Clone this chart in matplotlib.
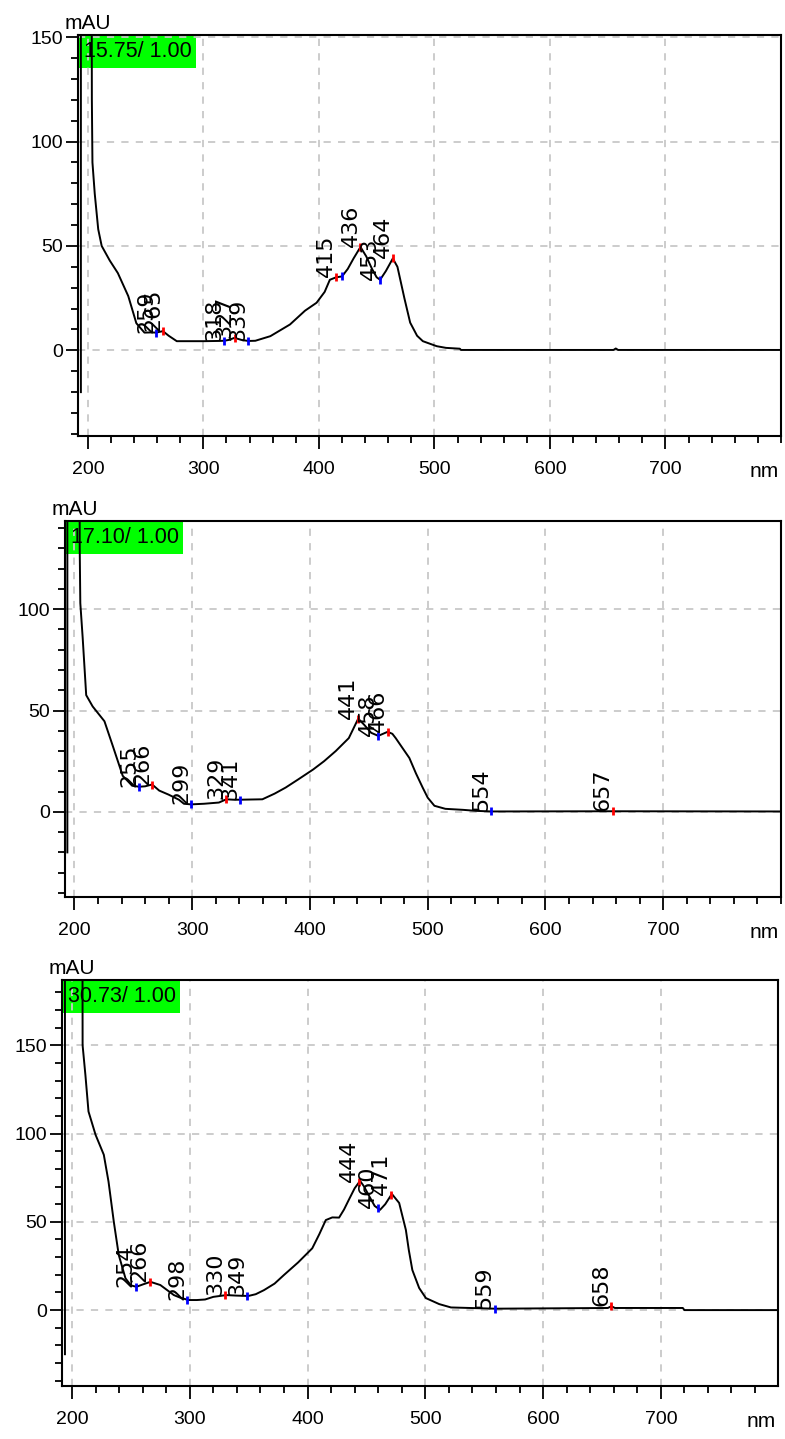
import numpy as np
import matplotlib
matplotlib.use("Agg")
import matplotlib.pyplot as plt
from matplotlib.patches import Rectangle
from matplotlib.ticker import MultipleLocator, FixedLocator

# Spectre 1 (15.75 min)
wl1 = [194, 194, 203, 203.5, 204, 206, 209, 212, 219, 226, 235, 242, 249, 255, 259, 265, 270, 277,
       300, 312, 318, 322, 327, 333, 339, 345, 358, 375, 388, 398, 405, 409.5, 415, 420, 425, 430,
       436, 441, 446, 450, 453, 458, 464, 468, 474, 479, 485, 490, 502, 510, 522, 523, 600, 655,
       657, 659, 800]
abs1 = [-20, 300, 300, 120, 90, 75, 58, 50, 43, 37, 26, 13, 8.5, 8.6, 8.5, 9.2, 7, 4.4,
        4.4, 4.5, 4.6, 5, 6, 5, 4.5, 4.6, 6.8, 12.4, 19, 22.8, 28, 33.8, 35, 35.4, 39, 44,
        49.5, 45, 39, 35, 33.8, 38, 44, 40, 25, 13.3, 7, 4.4, 2, 1.2, 0.8, 0.2, 0.2, 0.2,
        0.9, 0.2, 0.2]
peaks1 = [259, 265, 318, 327, 339, 415, 420, 436, 453, 464]
kinds1 = ["min", "max", "min", "max", "min", "max", "min", "max", "min", "max"]
texts1 = ["259", "265", "318", "327", "339", "415", "", "436", "453", "464"]

# Spectre 2 (17.10 min)
wl2 = [194, 194, 204, 204.5, 205, 207, 210, 215.5, 225.5, 232.6, 241, 249, 255, 260, 266, 272,
       280, 288.7, 293, 299, 310, 322.7, 329, 335, 341, 350, 359.6, 370, 379.4, 390, 402.7, 412,
       421.9, 433, 441, 446, 452, 458, 462, 466, 470, 472.8, 478, 484.4, 490, 495.7, 500, 505.7,
       515, 530, 541, 554, 657, 800]
abs2 = [-20, 300, 300, 130, 103, 86, 57.6, 52, 44.7, 32.5, 17.8, 12.9, 12.4, 12.6, 13.5, 10.5,
        8.5, 6, 4, 3.7, 4, 4.6, 6.2, 6, 6, 6.1, 6.2, 9, 12, 16, 20.9, 25,
        30, 36.4, 46, 43, 39, 37.5, 38.5, 39.5, 38.5, 36.4, 32, 26.6, 19, 12, 7, 3,
        1.5, 1, 0.5, 0.2, 0.3, 0.2]
peaks2 = [255, 266, 299, 329, 341, 441, 458, 466, 554, 657]
kinds2 = ["min", "max", "min", "max", "min", "max", "min", "max", "min", "max"]
texts2 = ["255", "266", "299", "329", "341", "441", "458", "466", "554", "657"]

# Spectre 3 (30.73 min)
wl3 = [194, 194, 208.5, 209, 211.4, 214, 220, 227, 231, 235.5, 239.7, 245.4, 250, 254.7, 260,
       266.6, 275, 286.5, 292, 299, 306, 313, 320, 331, 340, 349.7, 356, 363, 372, 380, 392,
       404, 410, 415.5, 421, 426.8, 431, 435, 440, 444.6, 448, 452, 457, 461.6, 466, 471.6,
       477.8, 483.5, 486, 489, 494.8, 500.5, 511.8, 521.8, 559, 655, 658, 661, 718.7, 720, 800]
abs3 = [-25, 400, 400, 150, 133, 112.5, 99.3, 88, 72.8, 50, 31.2, 18, 14, 13.2, 14.5,
        16, 14.2, 8.5, 7, 5.7, 5.7, 6, 7.5, 8.5, 8.2, 8, 9, 11.3, 15, 19.9, 27,
        35, 43, 51, 52.5, 52.4, 57, 62.4, 69, 73.2, 70, 65, 59, 56.8, 60, 65.8,
        60.7, 45.4, 34, 22.7, 12.5, 6.8, 3.4, 1.5, 0.8, 1.2, 2.2, 1.2, 1.2, 0, 0]
peaks3 = [254, 266, 298, 330, 349, 444, 460, 471, 559, 658]
kinds3 = ["min", "max", "min", "max", "min", "max", "min", "max", "min", "max"]
texts3 = ["254", "266", "298", "330", "349", "444", "460", "471", "559", "658"]

titles = ["15.75/ 1.00", "17.10/ 1.00", "30.73/ 1.00"]
y_limits = [(-41, 151), (-42, 143.5), (-43, 187)]
x_limits = [(191.5, 800), (192, 800), (191.5, 799.5)]
y_major = [[0, 50, 100, 150], [0, 50, 100], [0, 50, 100, 150]]

# Position des cadres en pixels (gauche, droite, haut, bas)
W, H = 785, 1439
boxes = [(78, 781, 35, 436), (65, 781, 521, 897), (62, 778, 980, 1386)]

plt.rcParams["font.family"] = ["Liberation Sans", "DejaVu Sans"]

fig = plt.figure(figsize=(W / 100, H / 100), dpi=100)

panels = [(wl1, abs1, peaks1, kinds1, texts1),
          (wl2, abs2, peaks2, kinds2, texts2),
          (wl3, abs3, peaks3, kinds3, texts3)]

for i, (wl, ab, peaks, kinds, texts) in enumerate(panels):
    l, r, t, b = boxes[i]
    ax = fig.add_axes([l / W, 1 - b / H, (r - l) / W, (b - t) / H])
    ax.set_xlim(*x_limits[i])
    ax.set_ylim(*y_limits[i])

    # Grille en pointillés
    ax.xaxis.set_major_locator(FixedLocator([200, 300, 400, 500, 600, 700]))
    ax.xaxis.set_minor_locator(MultipleLocator(20))
    ax.yaxis.set_major_locator(FixedLocator(y_major[i]))
    ax.yaxis.set_minor_locator(MultipleLocator(10))
    ax.grid(True, which="major", color="#c8c8c8", linestyle=(0, (4, 4)), linewidth=1.3, zorder=0)

    for s in ax.spines.values():
        s.set_linewidth(1.5)
        s.set_color("black")
    ax.tick_params(which="major", direction="out", length=9, width=1.3, labelsize=14)
    ax.tick_params(which="minor", direction="out", length=5, width=1.3)
    ax.tick_params(axis="x", which="major", pad=9)
    ax.tick_params(axis="y", which="major", pad=2)

    # Etiquette verte
    bw = 118 / (r - l)
    bh = 33 / (b - t)
    ax.add_patch(Rectangle((0, 1 - bh), bw, bh, transform=ax.transAxes,
                           facecolor="#00ff00", edgecolor="none", zorder=1, clip_on=False))
    ax.text(0.008, 1 - bh / 2, titles[i], transform=ax.transAxes, ha="left", va="center",
            fontsize=15.5, color="black", zorder=2)

    # Spectre
    ax.plot(wl, ab, color="black", linewidth=1.4, zorder=3)

    # Maxima (rouge) et minima (bleu)
    for nm, kind, txt in zip(peaks, kinds, texts):
        y = np.interp(nm, wl[1:], ab[1:])
        col = "red" if kind == "max" else "blue"
        ax.plot([nm], [y], marker="|", color=col, markersize=6, markeredgewidth=2, zorder=4)
        if txt:
            ax.text(nm, y, txt, rotation=90, rotation_mode="anchor", ha="left", va="bottom",
                    fontsize=16, family="DejaVu Sans", color="black", zorder=5)

    ax.annotate("mAU", xy=(0, 1), xycoords="axes fraction", xytext=(-13, 2),
                textcoords="offset pixels", ha="left", va="bottom", fontsize=15)
    ax.annotate("nm", xy=(1, 0), xycoords="axes fraction", xytext=(-2, -26),
                textcoords="offset pixels", ha="right", va="top", fontsize=15)

fig.savefig("out.png", dpi=100)
